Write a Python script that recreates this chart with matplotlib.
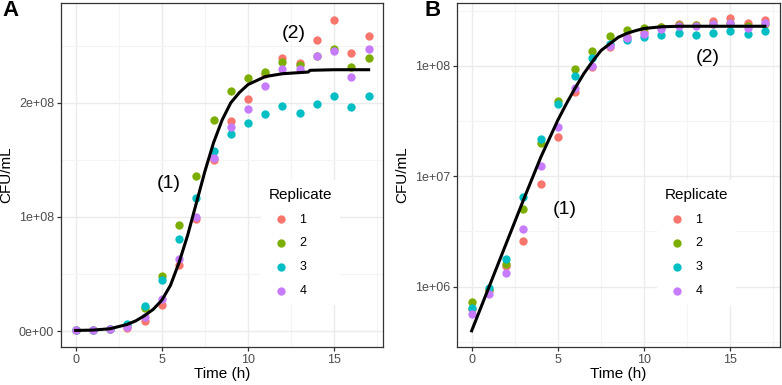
import matplotlib
matplotlib.use("Agg")
import matplotlib.pyplot as plt
import numpy as np

plt.rcParams['font.family'] = ['Liberation Sans', 'DejaVu Sans']

# Time points (h) and CFU/mL per replicate
time_h = np.arange(18)
rep1 = [6.3e5, 9.3e5, 1.55e6, 2.57e6, 8.5e6, 2.28e7, 5.8e7, 9.8e7, 1.50e8, 1.84e8,
        2.03e8, 2.25e8, 2.39e8, 2.35e8, 2.55e8, 2.73e8, 2.44e8, 2.59e8]
rep2 = [7.2e5, 9.3e5, 1.6e6, 5.1e6, 2.0e7, 4.84e7, 9.3e7, 1.36e8, 1.85e8, 2.10e8,
        2.22e8, 2.27e8, 2.36e8, 2.33e8, 2.41e8, 2.47e8, 2.31e8, 2.39e8]
rep3 = [6.4e5, 9.7e5, 1.8e6, 6.5e6, 2.17e7, 4.5e7, 8.1e7, 1.17e8, 1.58e8, 1.73e8,
        1.82e8, 1.90e8, 1.97e8, 1.91e8, 1.99e8, 2.06e8, 1.96e8, 2.06e8]
rep4 = [5.7e5, 8.5e5, 1.33e6, 3.3e6, 1.23e7, 2.77e7, 6.3e7, 1.0e8, 1.52e8, 1.79e8,
        1.95e8, 2.15e8, 2.30e8, 2.30e8, 2.41e8, 2.45e8, 2.23e8, 2.47e8]
replicates = ["1", "2", "3", "4"]
rep_colors = ["#F8766D", "#7CAE00", "#00BFC4", "#C77CFF"]

# fitted curve, panel A (linear scale, units of 1e8 CFU/mL)
fit_a_t = [0, 1, 2, 3, 3.5, 4, 4.5, 5, 5.5, 6, 6.5, 7, 7.5, 8, 8.5, 9, 9.5, 10,
           11, 12, 13, 13.5, 13.6, 15, 17]
fit_a_v = [0.005, 0.008, 0.02, 0.058, 0.09, 0.135, 0.19, 0.27, 0.40, 0.60, 0.84,
           1.12, 1.40, 1.65, 1.85, 2.00, 2.09, 2.16, 2.23, 2.255, 2.265, 2.27,
           2.285, 2.29, 2.29]
# fitted curve, panel B (log10 CFU/mL)
fit_b_t = [0, 1, 2, 3, 4, 4.5, 5, 5.5, 6, 6.5, 7, 7.5, 8, 8.5, 9, 9.5, 10, 11, 12, 17]
fit_b_log = [5.60, 5.995, 6.39, 6.785, 7.17, 7.34, 7.51, 7.66, 7.80, 7.93, 8.04,
             8.14, 8.20, 8.26, 8.295, 8.32, 8.34, 8.355, 8.36, 8.36]

W, H = 782, 385
fig = plt.figure(figsize=(W / 100, H / 100), dpi=100)
ax_a = fig.add_axes([61 / W, 1 - 346.7 / H, (383.3 - 61) / W, (346.7 - 2.7) / H])
ax_b = fig.add_axes([457 / W, 1 - 346.7 / H, (779.5 - 457) / W, (346.7 - 3.3) / H])

grid_major = "#EBEBEB"
grid_minor = "#F4F4F4"
tick_col = "#4D4D4D"


def style_axes(ax):
    ax.set_xlim(-0.85, 17.85)
    ax.set_xticks([0, 5, 10, 15])
    ax.set_xticks([2.5, 7.5, 12.5, 17.5], minor=True)
    ax.grid(True, which="major", color=grid_major, lw=1.0, zorder=0)
    ax.grid(True, which="minor", color=grid_minor, lw=0.8, zorder=0)
    ax.set_axisbelow(True)
    for s in ax.spines.values():
        s.set_color("#333333")
        s.set_linewidth(0.9)
    ax.tick_params(which="major", length=3, width=0.9, color="#333333",
                   labelsize=9, labelcolor=tick_col, pad=2)
    ax.tick_params(which="minor", length=0)
    ax.set_xlabel("Time (h)", fontsize=11, labelpad=1)
    ax.set_ylabel("CFU/mL", fontsize=11, labelpad=4)


reps = [rep1, rep2, rep3, rep4]

# Panel A: linear
for vals, lab, col in zip(reps, replicates, rep_colors):
    ax_a.scatter(time_h, vals, s=36, color=col, label=lab, zorder=3, lw=0)
ax_a.plot(fit_a_t, np.array(fit_a_v) * 1e8, color="black", lw=2.2, zorder=4)
ax_a.set_ylim(-0.1375e8, 2.8775e8)
ax_a.set_yticks([0, 1e8, 2e8])
ax_a.set_yticklabels(["0e+00", "1e+08", "2e+08"])
ax_a.set_yticks([0.5e8, 1.5e8, 2.5e8], minor=True)
style_axes(ax_a)
ax_a.text(5.4, 1.295e8, "(1)", fontsize=14, ha="center", va="center", zorder=5)
ax_a.text(12.66, 2.605e8, "(2)", fontsize=14, ha="center", va="center", zorder=5)

# Panel B: log scale
for vals, lab, col in zip(reps, replicates, rep_colors):
    ax_b.scatter(time_h, vals, s=36, color=col, label=lab, zorder=3, lw=0)
ax_b.plot(fit_b_t, 10 ** np.array(fit_b_log), color="black", lw=2.2, zorder=4)
ax_b.set_yscale("log")
ax_b.set_ylim(10 ** 5.456, 10 ** 8.568)
ax_b.set_yticks([1e6, 1e7, 1e8])
ax_b.set_yticklabels(["1e+06", "1e+07", "1e+08"])
ax_b.set_yticks([10 ** 5.5, 10 ** 6.5, 10 ** 7.5, 10 ** 8.5], minor=True)
ax_b.yaxis.set_minor_formatter(matplotlib.ticker.NullFormatter())
style_axes(ax_b)
ax_b.text(5.41, 10 ** 6.698, "(1)", fontsize=14, ha="center", va="center", zorder=5)
ax_b.text(13.68, 10 ** 8.077, "(2)", fontsize=14, ha="center", va="center", zorder=5)

for ax, x0 in [(ax_a, 255 / W), (ax_b, 651 / W)]:
    leg = ax.legend(title="Replicate", loc="upper left",
                    bbox_to_anchor=(x0, 1 - 174 / H), bbox_transform=fig.transFigure,
                    frameon=True, fontsize=9, title_fontsize=11, markerscale=1.0,
                    labelspacing=0.95, handletextpad=0.45, borderpad=0.6,
                    handlelength=2.0)
    leg.get_frame().set_facecolor("white")
    leg.get_frame().set_edgecolor("none")
    leg.get_frame().set_alpha(1.0)
    leg.set_zorder(6)
    leg._legend_box.align = "left"

fig.text(2 / W, 1 - 11 / H, "A", fontsize=16, fontweight="bold", va="center", ha="left")
fig.text(425 / W, 1 - 11 / H, "B", fontsize=16, fontweight="bold", va="center", ha="left")

fig.savefig("out.png", dpi=100)
